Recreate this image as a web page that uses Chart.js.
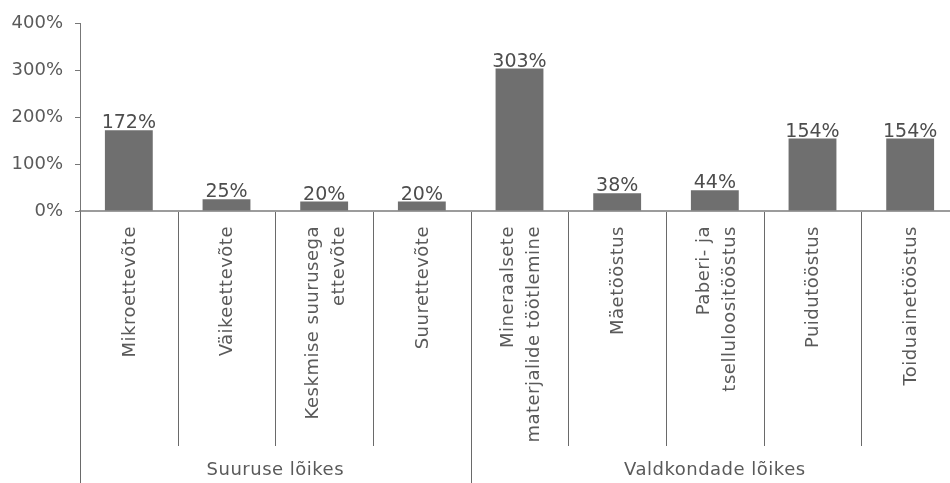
<!DOCTYPE html>
<html>
<head>
<meta charset="utf-8">
<script src="https://cdn.jsdelivr.net/npm/chart.js@4.4.0/dist/chart.umd.min.js"></script>
<style>
  html, body { margin: 0; padding: 0; background: #fff; overflow: hidden; }
  #wrap { width: 950px; height: 483px; overflow: hidden; position: relative; }
  canvas { display: block; }
</style>
</head>
<body>
<div id="wrap"><canvas id="c" width="960" height="483" style="width:960px;height:483px"></canvas></div>
<script>
// ---- data ----
const categories = [
  ['Mikroettevõte'],
  ['Väikeettevõte'],
  ['Keskmise suurusega', 'ettevõte'],
  ['Suurettevõte'],
  ['Mineraalsete', 'materjalide töötlemine'],
  ['Mäetööstus'],
  ['Paberi- ja', 'tselluloositööstus'],
  ['Puidutööstus'],
  ['Toiduainetööstus']
];
const values = [172, 25, 20, 20, 303, 38, 44, 154, 154];
const groupLabels = ['Suuruse lõikes', 'Valdkondade lõikes'];
const groupSizes = [4, 5];
const yTicks = [0, 100, 200, 300, 400];

const FONT = '"DejaVu Sans", Verdana, sans-serif';
const TEXT = '#5a5a5a';

const labelsPlugin = {
  id: 'customLabels',
  afterDraw(chart) {
    const ctx = chart.ctx;
    const x = chart.scales.x;
    const area = chart.chartArea;
    const base = area.bottom;
    const half = (x.getPixelForValue(1) - x.getPixelForValue(0)) / 2;
    ctx.save();
    ctx.strokeStyle = '#6a6a6a';
    ctx.lineWidth = 1;
    const groupBounds = [0];
    let acc = 0;
    groupSizes.forEach(s => { acc += s; groupBounds.push(acc); });
    for (let i = 0; i <= categories.length; i++) {
      const px = Math.round((i < categories.length ? x.getPixelForValue(i) - half : x.getPixelForValue(i - 1) + half)) + 0.5;
      const isGroup = groupBounds.includes(i);
      ctx.beginPath();
      ctx.moveTo(px, base + 1);
      ctx.lineTo(px, isGroup ? 483 : 446);
      ctx.stroke();
    }
    // category labels (rotated)
    ctx.fillStyle = TEXT;
    ctx.font = '18px ' + FONT;
    ctx.letterSpacing = '0.5px';
    const lh = 26;
    categories.forEach((lines, i) => {
      const cx = x.getPixelForValue(i);
      const n = lines.length;
      lines.forEach((line, j) => {
        const off = (j - (n - 1) / 2) * lh + (n > 1 ? 1 : 0);
        ctx.save();
        ctx.translate(cx + off + 1, base + 15);
        ctx.rotate(-Math.PI / 2);
        ctx.textAlign = 'right';
        ctx.textBaseline = 'middle';
        ctx.fillText(line, 0, 0);
        ctx.restore();
      });
    });
    // group labels
    ctx.font = '18px ' + FONT;
    ctx.letterSpacing = '0.5px';
    ctx.textAlign = 'center';
    ctx.textBaseline = 'middle';
    let start = 0;
    groupSizes.forEach((s, g) => {
      const l = x.getPixelForValue(start) - half;
      const r = x.getPixelForValue(start + s - 1) + half;
      ctx.fillText(groupLabels[g], (l + r) / 2, 470);
      start += s;
    });
    ctx.restore();
  },
  afterDatasetsDraw(chart) {
    const ctx = chart.ctx;
    const meta = chart.getDatasetMeta(0);
    ctx.save();
    ctx.fillStyle = '#4d4d4d';
    ctx.font = '19px ' + FONT;
    ctx.textAlign = 'center';
    ctx.textBaseline = 'alphabetic';
    meta.data.forEach((bar, i) => {
      ctx.fillText(values[i] + '%', bar.x, bar.y - 2);
    });
    ctx.restore();
  }
};

new Chart(document.getElementById('c'), {
  type: 'bar',
  data: {
    labels: categories.map(c => c.join(' ')),
    datasets: [{
      data: values,
      backgroundColor: '#6f6f6f',
      borderWidth: 0,
      categoryPercentage: 1.0,
      barPercentage: 0.49
    }]
  },
  options: {
    responsive: false,
    animation: false,
    devicePixelRatio: 1,
    layout: { padding: { top: 23, right: 1, left: 0, bottom: 0 } },
    plugins: { legend: { display: false }, tooltip: { enabled: false } },
    scales: {
      x: {
        ticks: { display: false },
        grid: { display: false },
        border: { display: true, color: '#9c9c9c', width: 2 },
        afterFit(scale) { scale.height = 272; }
      },
      y: {
        min: 0,
        max: 400,
        afterBuildTicks(scale) { scale.ticks = yTicks.map(v => ({ value: v })); },
        ticks: {
          padding: 12,
          color: TEXT,
          font: { family: FONT, size: 18 },
          callback: v => v + '%'
        },
        grid: { display: true, drawOnChartArea: false, drawTicks: true, tickLength: 5, color: '#777' },
        border: { display: true, color: '#777', width: 1 },
        afterFit(scale) { scale.width = 80; }
      }
    }
  },
  plugins: [labelsPlugin]
});
</script>
</body>
</html>
